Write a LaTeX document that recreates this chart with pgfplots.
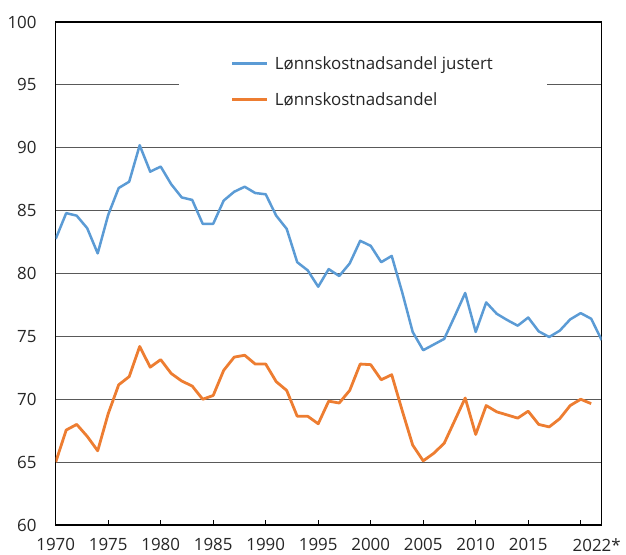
\documentclass[border=0pt]{standalone}
\usepackage{fontspec}
\setmainfont{Open Sans}
\usepackage{pgfplots}
\pgfplotsset{compat=1.18}
\usepackage{pgfplotstable}
\definecolor{cblue}{HTML}{5B9BD5}
\definecolor{corange}{HTML}{ED7D31}
\definecolor{cgrid}{HTML}{595959}
\pgfplotstableread{
year val
1970 82.75
1971 84.8
1972 84.6
1973 83.6
1974 81.6
1975 84.66
1976 86.8
1977 87.3
1978 90.2
1979 88.1
1980 88.5
1981 87.1
1982 86.05
1983 85.85
1984 83.95
1985 83.95
1986 85.8
1987 86.5
1988 86.9
1989 86.4
1990 86.3
1991 84.6
1992 83.55
1993 80.9
1994 80.25
1995 78.95
1996 80.35
1997 79.8
1998 80.8
1999 82.6
2000 82.2
2001 80.9
2002 81.4
2003 78.5
2004 75.35
2005 73.9
2006 74.35
2007 74.8
2008 76.6
2009 78.45
2010 75.35
2011 77.7
2012 76.8
2013 76.3
2014 75.85
2015 76.5
2016 75.4
2017 74.95
2018 75.45
2019 76.35
2020 76.85
2021 76.4
2022 74.7
}\justert
\pgfplotstableread{
year val
1970 65.0
1971 67.55
1972 68.0
1973 67.05
1974 65.9
1975 68.85
1976 71.15
1977 71.8
1978 74.2
1979 72.55
1980 73.15
1981 72.05
1982 71.45
1983 71.05
1984 70.0
1985 70.3
1986 72.3
1987 73.35
1988 73.5
1989 72.8
1990 72.8
1991 71.4
1992 70.7
1993 68.65
1994 68.65
1995 68.05
1996 69.85
1997 69.7
1998 70.7
1999 72.8
2000 72.75
2001 71.55
2002 71.95
2003 69.1
2004 66.35
2005 65.1
2006 65.7
2007 66.5
2008 68.3
2009 70.1
2010 67.2
2011 69.5
2012 69.0
2013 68.75
2014 68.5
2015 69.05
2016 68.0
2017 67.8
2018 68.45
2019 69.5
2020 70.0
2021 69.65
}\andel
\begin{document}
\begin{tikzpicture}
\begin{axis}[
  at={(0pt,0pt)}, anchor=origin,
  scale only axis, width=546pt, height=503pt,
  xmin=1970, xmax=2022, ymin=60, ymax=100,
  ytick={60,65,...,100},
  xtick={1970,1975,...,2020},
  xticklabels={1970,1975,1980,1985,1990,1995,2000,2005,2010,2015,{}},
  extra x ticks={2022},
  extra x tick labels={2022*},
  extra x tick style={major tick length=0pt, xticklabel style={xshift=-5pt}},
  xtick pos=left,
  tick align=inside,
  major tick length=5pt,
  ytick style={draw=none},
  xtick style={black, line width=0.8pt},
  ymajorgrids,
  major grid style={cgrid, line width=0.9pt},
  axis line style={black, line width=1.3pt},
  /pgf/number format/assume math mode=true,
  /pgf/number format/1000 sep={},
  ticklabel style={font=\fontsize{16.9}{20}\selectfont, text=black!85},
  yticklabel style={inner sep=0pt, xshift=-19pt},
  xticklabel style={inner sep=0pt, anchor=north, yshift=-13.5pt},
  legend style={at={(0.2258,0.9642)}, anchor=north west, draw=none, fill=white,
    inner xsep=52pt, inner ysep=14pt, row sep=18pt,
    font=\fontsize{16.9}{20}\selectfont, text=black!85},
  legend cell align=left,
  legend image code/.code={\draw[#1, line width=2.5pt] (0pt,0pt) -- (35pt,0pt); \path (39pt,0pt);},
]
\addplot[cblue, line width=2.5pt, line join=round] table[x=year,y=val] {\justert};
\addlegendentry{Lønnskostnadsandel justert}
\addplot[corange, line width=2.8pt, line join=round] table[x=year,y=val] {\andel};
\addlegendentry{Lønnskostnadsandel}
\end{axis}
\pgfresetboundingbox
\path[use as bounding box] (-55.7pt,-29pt) rectangle (570.3pt,525pt);
\end{tikzpicture}
\end{document}
